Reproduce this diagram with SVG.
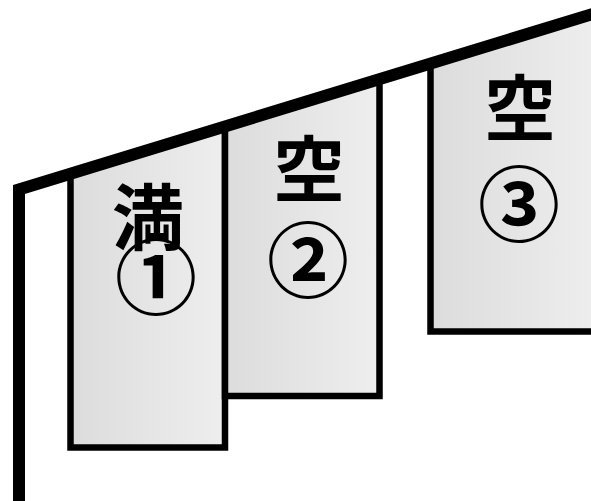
<svg xmlns="http://www.w3.org/2000/svg" width="591" height="501" viewBox="0 0 591 501">
  <defs>
    <linearGradient id="fillGrad" x1="0" y1="0" x2="1" y2="0">
      <stop offset="0" stop-color="#dcdcdc"/>
      <stop offset="1" stop-color="#eeeeee"/>
    </linearGradient>
  </defs>
  <style>
    .space { fill: url(#fillGrad); stroke: #000; stroke-width: 6.5; stroke-linejoin: miter; }
    .label { font-family: "Noto Sans CJK JP", "Noto Sans CJK SC", sans-serif; font-weight: bold; fill: #000; text-anchor: middle; dominant-baseline: central; }
    .kanji { font-size: 72px; }
    .num { font-size: 82px; }
    .wall { fill: none; stroke: #000; stroke-width: 12; stroke-linejoin: miter; stroke-miterlimit: 10; }
  </style>
  <rect width="591" height="501" fill="#fff"/>
  <g id="space1">
    <polygon class="space" points="70.5,173.7 225,126.5 225,447.5 70.5,447.5"/>
    <text class="label kanji" x="148" y="212">満</text>
    <text class="label num" x="156" y="272">①</text>
  </g>
  <g id="space2">
    <polygon class="space" points="225,126.5 379.5,79.2 379.5,396 225,396"/>
    <text class="label kanji" x="309" y="164">空</text>
    <text class="label num" x="308" y="255">②</text>
  </g>
  <g id="space3">
    <polygon class="space" points="430.5,63.6 600,11.7 600,331.5 430.5,331.5"/>
    <text class="label kanji" x="520" y="103">空</text>
    <text class="label num" x="519" y="199">③</text>
  </g>
  <g id="connectors">
    <polyline id="wall" class="wall" points="19,510 19,189.5 600,11.7"/>
  </g>
</svg>
